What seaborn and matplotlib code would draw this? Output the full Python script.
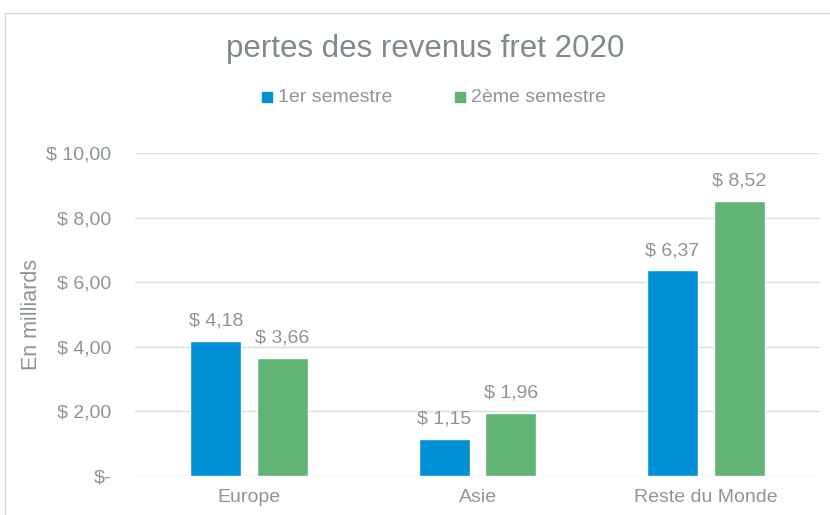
import matplotlib
matplotlib.use("Agg")
import matplotlib.pyplot as plt
import pandas as pd
import seaborn as sns
from matplotlib.patches import Rectangle
from matplotlib.ticker import FuncFormatter

regions = ["Europe", "Asie", "Reste du Monde"]
semestres = ["1er semestre", "2ème semestre"]
s1 = [4.18, 1.15, 6.37]
s2 = [3.66, 1.96, 8.52]

df = pd.DataFrame({
    "region": regions * 2,
    "semestre": [semestres[0]] * 3 + [semestres[1]] * 3,
    "valeur": s1 + s2,
})

sns.set_theme(style="white")
plt.rcParams["font.family"] = ["Liberation Sans", "DejaVu Sans"]
grey = "#8c9599"
palette = {semestres[0]: "#0090d6", semestres[1]: "#62b474"}

fig = plt.figure(figsize=(8.3, 5.15), dpi=100)
ax = fig.add_axes([0.1627, 0.0757, 0.8253, 0.6273])

sns.barplot(data=df, x="region", y="valeur", hue="semestre", palette=palette,
            width=0.583, gap=0.233, saturation=1, ax=ax, legend=False)

ax.set_ylim(0, 10)
ax.set_xlim(-0.5, 2.5)
ax.set_yticks([0, 2, 4, 6, 8, 10])
ax.yaxis.set_major_formatter(FuncFormatter(
    lambda v, p: "$-" if v == 0 else "$ " + f"{v:.2f}".replace(".", ",")))
ax.grid(axis="y", color="#dedede", linewidth=1)
ax.set_axisbelow(True)
for s in ax.spines.values():
    s.set_visible(False)
ax.tick_params(axis="both", length=0, colors=grey, labelsize=14, pad=17)
ax.tick_params(axis="x", pad=9)
ax.set_xlabel("")
ax.set_ylabel("En milliards", color=grey, fontsize=15.5)
ax.yaxis.set_label_coords(-0.136, 0.5)

for cont in ax.containers:
    ax.bar_label(cont, labels=["$ " + f"{b.get_height():.2f}".replace(".", ",") for b in cont],
                 padding=8, color=grey, fontsize=14)

fig.text(0.512, 0.905, "pertes des revenus fret 2020", ha="center", va="center",
         color="#7f8a8e", fontsize=22.5)

# legend
for xs, lbl, col in [(0.316, semestres[0], palette[semestres[0]]),
                     (0.548, semestres[1], palette[semestres[1]])]:
    fig.patches.append(Rectangle((xs, 0.802), 0.012, 0.019, transform=fig.transFigure,
                                 color=col, figure=fig))
    fig.text(xs + 0.019, 0.811, lbl, ha="left", va="center", color=grey, fontsize=14)

fig.patches.append(Rectangle((0.006, -0.1), 1.1, 1.075, transform=fig.transFigure,
                             fill=False, edgecolor="#d9d9d9", linewidth=1, figure=fig))

fig.savefig("out.png", dpi=100)
